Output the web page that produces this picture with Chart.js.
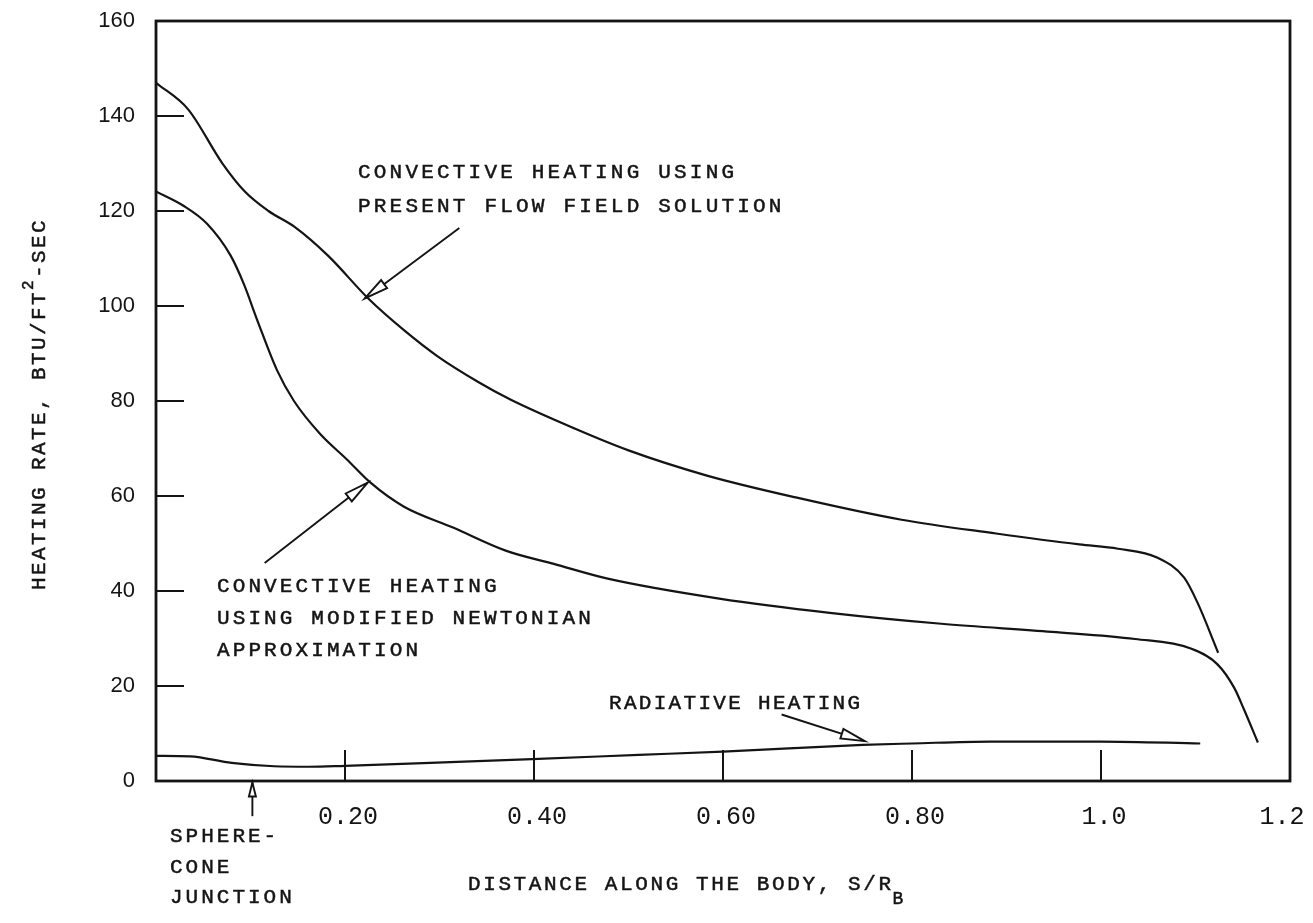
<!DOCTYPE html>
<html>
<head>
<meta charset="utf-8">
<script src="https://cdn.jsdelivr.net/npm/chart.js@4.4.1/dist/chart.umd.min.js"></script>
<style>
  html, body { margin: 0; padding: 0; background: #ffffff; }
  canvas { display: block; }
</style>
</head>
<body>
<canvas id="heating" width="1313" height="923"></canvas>
<script>
// Distance along the body (S/R_B) and heating rate (BTU/FT^2-SEC) for each curve.
const flowFieldS = [0.000, 0.034, 0.070, 0.094, 0.119, 0.147, 0.182, 0.226, 0.263, 0.298, 0.341, 0.375, 0.443, 0.500, 0.583, 0.677, 0.789, 0.889, 0.977, 1.018, 1.060, 1.088, 1.102, 1.124];
const flowFieldQ = [147.0, 141.4, 130.1, 124.1, 120.0, 116.6, 110.6, 101.3, 94.8, 89.4, 84.0, 80.3, 74.2, 69.6, 64.3, 59.7, 55.0, 52.1, 49.8, 48.9, 47.0, 42.8, 37.6, 27.0];

const newtonianS = [0.000, 0.029, 0.054, 0.079, 0.093, 0.107, 0.128, 0.146, 0.174, 0.202, 0.227, 0.262, 0.315, 0.370, 0.421, 0.478, 0.596, 0.713, 0.831, 0.948, 1.036, 1.095, 1.123, 1.141, 1.151, 1.166];
const newtonianQ = [124.1, 121.1, 117.3, 110.6, 104.6, 97.1, 86.5, 80.0, 73.0, 67.7, 62.8, 57.8, 53.3, 48.5, 45.7, 42.6, 38.4, 35.4, 33.1, 31.4, 29.9, 27.9, 24.6, 19.6, 15.2, 8.1];

const radiativeS = [0.000, 0.036, 0.080, 0.125, 0.162, 0.200, 0.290, 0.398, 0.511, 0.600, 0.748, 0.800, 0.883, 1.000, 1.105];
const radiativeQ = [5.3, 5.2, 3.8, 3.1, 3.0, 3.2, 3.8, 4.6, 5.5, 6.2, 7.6, 7.9, 8.3, 8.3, 7.9];

const xTickValues = [0.2, 0.4, 0.6, 0.8, 1.0, 1.2];
const xTickLabels = ['0.20', '0.40', '0.60', '0.80', '1.0', '1.2'];
const yTickValues = [0, 20, 40, 60, 80, 100, 120, 140, 160];
const yTickLabels = ['0', '20', '40', '60', '80', '100', '120', '140', '160'];

const MONO = '"Liberation Mono", "DejaVu Sans Mono", monospace';
const SANS = '"Liberation Sans", Arial, sans-serif';
const INK = '#141414';

function points(xs, ys) {
  return xs.map((x, i) => ({ x: x, y: ys[i] }));
}

// Typewriter-style text: monospace face, set pitch, slightly heavier strokes.
function typeText(ctx, str, x, y, size, pitch) {
  const spacing = pitch - size * 0.6;
  ctx.font = size + 'px ' + MONO;
  ctx.letterSpacing = spacing + 'px';
  ctx.lineWidth = 0.5;
  ctx.strokeStyle = INK;
  ctx.fillText(str, x, y);
  ctx.strokeText(str, x, y);
  return str.length * pitch;
}

// Leader line ending in a hollow, narrow arrowhead at (x1, y1).
function arrow(ctx, x0, y0, x1, y1, len, half) {
  ctx.beginPath();
  ctx.moveTo(x0, y0);
  ctx.lineTo(x1, y1);
  ctx.stroke();
  const a = Math.atan2(y1 - y0, x1 - x0);
  const bx = x1 - len * Math.cos(a), by = y1 - len * Math.sin(a);
  const px = -Math.sin(a) * half, py = Math.cos(a) * half;
  ctx.beginPath();
  ctx.moveTo(x1, y1);
  ctx.lineTo(bx + px, by + py);
  ctx.lineTo(bx - px, by - py);
  ctx.closePath();
  ctx.fillStyle = '#ffffff';
  ctx.fill();
  ctx.stroke();
}

const paperPlugin = {
  id: 'paper',
  afterDraw(chart) {
    const ctx = chart.ctx;
    const area = chart.chartArea;
    const xs = chart.scales.x, ys = chart.scales.y;
    const px = v => xs.getPixelForValue(v);
    const py = v => ys.getPixelForValue(v);

    ctx.save();
    ctx.strokeStyle = INK;
    ctx.fillStyle = INK;

    // frame
    ctx.lineWidth = 2.8;
    ctx.strokeRect(area.left, area.top, area.right - area.left, area.bottom - area.top);

    // inward tick marks
    ctx.lineWidth = 2;
    xTickValues.slice(0, -1).forEach(v => {
      ctx.beginPath();
      ctx.moveTo(px(v), area.bottom);
      ctx.lineTo(px(v), area.bottom - 31);
      ctx.stroke();
    });
    yTickValues.slice(1, -1).forEach(v => {
      ctx.beginPath();
      ctx.moveTo(area.left, py(v));
      ctx.lineTo(area.left + 28, py(v));
      ctx.stroke();
    });

    // x tick labels (the last one is pulled inside the page edge)
    ctx.font = '25px ' + MONO;
    ctx.letterSpacing = '0px';
    ctx.textAlign = 'center';
    ctx.textBaseline = 'middle';
    ctx.fillStyle = INK;
    xTickValues.forEach((v, i) => {
      const x = Math.min(px(v) + 3, area.right - 8);
      ctx.fillText(xTickLabels[i], x, area.bottom + 36);
    });

    // annotation arrows
    ctx.lineWidth = 1.9;
    arrow(ctx, px(0.321), py(116.4), px(0.221), py(101.6), 24, 5);
    arrow(ctx, px(0.115), py(45.9), px(0.224), py(62.8), 24, 5);
    arrow(ctx, px(0.662), py(14.0), px(0.750), py(8.4), 24, 5);
    arrow(ctx, px(0.102), py(-7.4), px(0.102), py(-0.3), 14, 3.5);

    // annotation text
    ctx.fillStyle = INK;
    ctx.textAlign = 'left';
    ctx.textBaseline = 'alphabetic';
    typeText(ctx, 'CONVECTIVE HEATING USING', 358, 178, 21, 15.8);
    typeText(ctx, 'PRESENT FLOW FIELD SOLUTION', 358, 212, 21, 15.8);
    typeText(ctx, 'CONVECTIVE HEATING', 217, 592, 21, 15.7);
    typeText(ctx, 'USING MODIFIED NEWTONIAN', 217, 624, 21, 15.7);
    typeText(ctx, 'APPROXIMATION', 217, 656, 21, 15.7);
    typeText(ctx, 'RADIATIVE HEATING', 609, 709, 21, 14.9);
    typeText(ctx, 'SPHERE-', 170, 842, 21, 15.6);
    typeText(ctx, 'CONE', 170, 873, 21, 15.6);
    typeText(ctx, 'JUNCTION', 170, 903, 21, 15.6);

    // x-axis title with subscript
    const w = typeText(ctx, 'DISTANCE ALONG THE BODY, S/R', 468, 890, 21, 15.2);
    typeText(ctx, 'B', 468 + w - 1, 904, 18, 11);

    // y-axis title, rotated, with superscript
    const main = 'HEATING RATE, BTU/FT';
    const tail = '-SEC';
    const pitch = 15.0;
    const total = (main.length + tail.length) * pitch + 12;
    ctx.translate(39, (area.top + area.bottom) / 2 + 3);
    ctx.rotate(-Math.PI / 2);
    ctx.textBaseline = 'middle';
    let x0 = -total / 2;
    typeText(ctx, main, x0, 0, 21, pitch);
    x0 += main.length * pitch;
    typeText(ctx, '2', x0, -10, 16, 11);
    x0 += 12;
    typeText(ctx, tail, x0, 0, 21, pitch);

    ctx.restore();
  }
};

const lineStyle = {
  borderColor: INK,
  borderWidth: 2.2,
  pointRadius: 0,
  fill: false,
  cubicInterpolationMode: 'monotone'
};

new Chart(document.getElementById('heating'), {
  type: 'line',
  data: {
    datasets: [
      Object.assign({ label: 'Convective heating, present flow field solution', data: points(flowFieldS, flowFieldQ) }, lineStyle),
      Object.assign({ label: 'Convective heating, modified Newtonian approximation', data: points(newtonianS, newtonianQ) }, lineStyle),
      Object.assign({ label: 'Radiative heating', data: points(radiativeS, radiativeQ) }, lineStyle)
    ]
  },
  options: {
    responsive: false,
    animation: false,
    devicePixelRatio: 1,
    layout: { padding: { top: 21, right: 23, left: 0, bottom: 0 } },
    plugins: {
      legend: { display: false },
      tooltip: { enabled: false }
    },
    scales: {
      x: {
        type: 'linear',
        min: 0,
        max: 1.2,
        afterBuildTicks: s => { s.ticks = xTickValues.map(v => ({ value: v })); },
        afterFit: s => { s.height = 142; s.paddingLeft = 0; s.paddingRight = 0; },
        grid: { display: false, drawTicks: false },
        border: { display: false },
        ticks: { display: false }
      },
      y: {
        type: 'linear',
        min: 0,
        max: 160,
        afterBuildTicks: s => { s.ticks = yTickValues.map(v => ({ value: v })); },
        afterFit: s => { s.width = 156; s.paddingTop = 0; s.paddingBottom = 0; },
        grid: { display: false, drawTicks: false },
        border: { display: false },
        ticks: {
          callback: (v, i) => yTickLabels[i],
          font: { family: SANS, size: 22 },
          color: INK,
          padding: 21
        }
      }
    }
  },
  plugins: [paperPlugin]
});
</script>
</body>
</html>
